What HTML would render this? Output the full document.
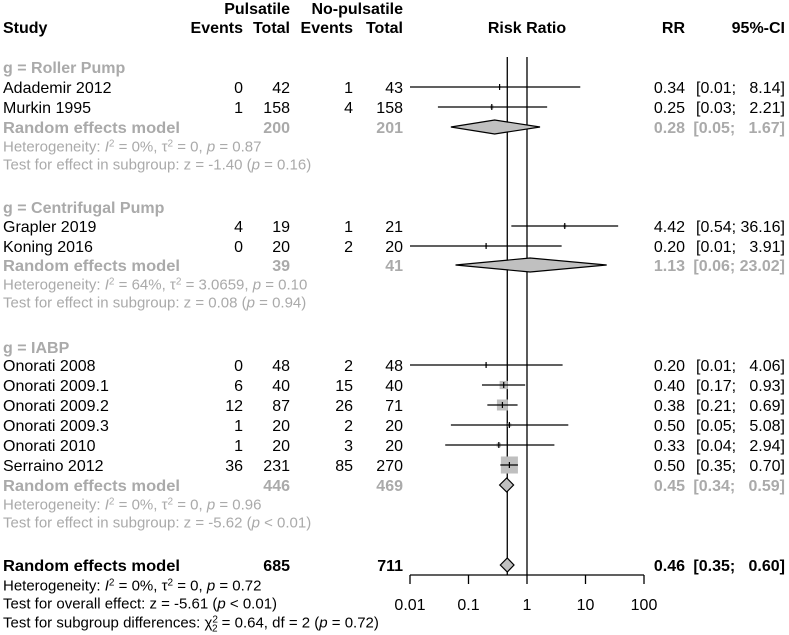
<!DOCTYPE html>
<html><head><meta charset="utf-8"><style>
html,body{margin:0;padding:0;background:#fff}
svg{display:block;font-family:"Liberation Sans",Arial,sans-serif}
</style></head><body>
<svg id="plot" width="789" height="635" viewBox="0 0 789 635" xmlns="http://www.w3.org/2000/svg"></svg>
<script>
const studies = ["Adademir 2012","Murkin 1995","Grapler 2019","Koning 2016","Onorati 2008","Onorati 2009.1","Onorati 2009.2","Onorati 2009.3","Onorati 2010","Serraino 2012"];
const evP = [0,1,4,0,0,6,12,1,1,36];
const totP = [42,158,19,20,48,40,87,20,20,231];
const evN = [1,4,1,2,2,15,26,2,3,85];
const totN = [43,158,21,20,48,40,71,20,20,270];
const rr = [0.34,0.25,4.42,0.20,0.20,0.40,0.38,0.50,0.33,0.50];
const lo = [0.01,0.03,0.54,0.01,0.01,0.17,0.21,0.05,0.04,0.35];
const hi = [8.14,2.21,36.16,3.91,4.06,0.93,0.69,5.08,2.94,0.70];
const weights = [1,2.5,2,1,1,14,25,3,4,60];
const rowY = [87,107,226,246,365,385,405,425,445,465];
const groups = ["g = Roller Pump","g = Centrifugal Pump","g = IABP"];
const grpRR = [0.28,1.13,0.45];
const grpLo = [0.05,0.06,0.34];
const grpHi = [1.67,23.02,0.59];
const grpTotP = [200,39,446];
const grpTotN = [201,41,469];
const grpY = [67,207,347];
const overall = {rr:0.46, lo:0.35, hi:0.60, totP:685, totN:711};
const ticks = [0.01,0.1,1,10,100];
const tickLabels = ["0.01","0.1","1","10","100"];

const svg = document.getElementById('plot');
const NS = "http://www.w3.org/2000/svg";
const X0 = 410, X1 = 644, AX = 575;
function xs(v){ return X0 + (Math.log10(v) + 2) / 4 * (X1 - X0); }
function mk(tag, attrs, parent){
  const e = document.createElementNS(NS, tag);
  for (const k in attrs) e.setAttribute(k, attrs[k]);
  (parent || svg).appendChild(e);
  return e;
}
function txt(s, x, y, opts){
  opts = opts || {};
  const size = opts.size || 16;
  const t = mk('text', {x:x, y:y + size*0.36, 'font-size': size, fill: opts.fill || '#000', 'text-anchor': opts.anchor || 'start'});
  if (opts.bold) t.setAttribute('font-weight','bold');
  if (opts.len) { t.setAttribute('textLength', opts.len); t.setAttribute('lengthAdjust','spacingAndGlyphs'); }
  if (opts.html) t.innerHTML = s; else t.textContent = s;
  
  
  return t;
}
const GREY = '#aaaaaa';
const f2 = v => v.toFixed(2);
function ci(l,h){ return '[' + f2(l) + '; ' + (h<10?'\u2007':'') + f2(h) + ']'; }

// headers
txt('Pulsatile', 290, 8, {bold:true, anchor:'end', name:'header-pulsatile'});
txt('No-pulsatile', 403, 8, {bold:true, anchor:'end', name:'header-no-pulsatile'});
txt('Study', 3, 27, {bold:true, name:'header-study'});
txt('Events', 243, 27, {bold:true, anchor:'end', name:'header-events-p'});
txt('Total', 290, 27, {bold:true, anchor:'end', name:'header-total-p'});
txt('Events', 353, 27, {bold:true, anchor:'end', name:'header-events-n'});
txt('Total', 403, 27, {bold:true, anchor:'end', name:'header-total-n'});
txt('Risk Ratio', 527, 27, {bold:true, anchor:'middle', name:'header-risk-ratio'});
txt('RR', 685, 27, {bold:true, anchor:'end', name:'header-rr'});
txt('95%-CI', 785, 27, {bold:true, anchor:'end', name:'header-ci'});

// reference lines
const l1 = mk('line', {x1:xs(1), x2:xs(1), y1:57, y2:AX, stroke:'#000', 'stroke-width':1.3});


const l2 = mk('line', {x1:xs(overall.rr), x2:xs(overall.rr), y1:57, y2:AX, stroke:'#000', 'stroke-width':1.3});



// studies
for (let i=0;i<studies.length;i++){
  const y = rowY[i];
  txt(studies[i], 3, y, {name:'study-name'});
  txt(String(evP[i]), 243, y, {anchor:'end', name:'events-pulsatile'});
  txt(String(totP[i]), 290, y, {anchor:'end', name:'total-pulsatile'});
  txt(String(evN[i]), 353, y, {anchor:'end', name:'events-no-pulsatile'});
  txt(String(totN[i]), 403, y, {anchor:'end', name:'total-no-pulsatile'});
  txt(f2(rr[i]), 685, y, {anchor:'end', name:'rr-value'});
  txt(ci(lo[i],hi[i]), 785, y, {anchor:'end', name:'ci-value'});
  const s = 2.2*Math.sqrt(weights[i]);
  const sq = mk('rect', {x:xs(rr[i])-s/2, y:y-s/2, width:s, height:s, fill:'#bfbfbf'});
  
  
  const cl = mk('line', {x1:xs(lo[i]), x2:xs(hi[i]), y1:y, y2:y, stroke:'#000', 'stroke-width':1.2});
  
  
  const tk = mk('line', {x1:xs(rr[i]), x2:xs(rr[i]), y1:y-3, y2:y+3, stroke:'#000', 'stroke-width':1.2});
  
  
}

// groups
const hetTxt = [
 ['Heterogeneity: <tspan font-style="italic">I</tspan><tspan dy="-5" font-size="10">2</tspan><tspan dy="5"> = 0%, τ</tspan><tspan dy="-5" font-size="10">2</tspan><tspan dy="5"> = 0, </tspan><tspan font-style="italic">p</tspan> = 0.87',
  'Test for effect in subgroup: z = -1.40 (<tspan font-style="italic">p</tspan> = 0.16)'],
 ['Heterogeneity: <tspan font-style="italic">I</tspan><tspan dy="-5" font-size="10">2</tspan><tspan dy="5"> = 64%, τ</tspan><tspan dy="-5" font-size="10">2</tspan><tspan dy="5"> = 3.0659, </tspan><tspan font-style="italic">p</tspan> = 0.10',
  'Test for effect in subgroup: z = 0.08 (<tspan font-style="italic">p</tspan> = 0.94)'],
 ['Heterogeneity: <tspan font-style="italic">I</tspan><tspan dy="-5" font-size="10">2</tspan><tspan dy="5"> = 0%, τ</tspan><tspan dy="-5" font-size="10">2</tspan><tspan dy="5"> = 0, </tspan><tspan font-style="italic">p</tspan> = 0.96',
  'Test for effect in subgroup: z = -5.62 (<tspan font-style="italic">p</tspan> &lt; 0.01)']
];
function diamond(r,l,h,y,fillc,name){
  const d = mk('polygon', {points: xs(l)+','+y+' '+xs(r)+','+(y-7)+' '+xs(h)+','+y+' '+xs(r)+','+(y+7), fill:fillc, stroke:'#000', 'stroke-width':1.2});
  
  
}
for (let g=0; g<3; g++){
  const y = grpY[g];
  txt(groups[g], 3, y, {bold:true, fill:GREY, name:'subgroup-title'});
  const ry = y + (g===2?138:(g===0?60:58));
  txt('Random effects model', 3, ry, {bold:true, len:177, fill:GREY, name:'subgroup-model-label'});
  txt(String(grpTotP[g]), 290, ry, {bold:true, fill:GREY, anchor:'end', name:'subgroup-total-p'});
  txt(String(grpTotN[g]), 403, ry, {bold:true, fill:GREY, anchor:'end', name:'subgroup-total-n'});
  txt(f2(grpRR[g]), 685, ry, {bold:true, fill:GREY, anchor:'end', name:'subgroup-rr'});
  txt(ci(grpLo[g],grpHi[g]), 785, ry, {bold:true, fill:GREY, anchor:'end', name:'subgroup-ci'});
  diamond(grpRR[g], grpLo[g], grpHi[g], ry, '#c0c0c0', 'subgroup-diamond');
  txt(hetTxt[g][0], 3, ry+19, {size:15, fill:GREY, html:true, name:'subgroup-heterogeneity'});
  txt(hetTxt[g][1], 3, ry+37, {size:15, fill:GREY, html:true, name:'subgroup-effect-test'});
}

// overall
txt('Random effects model', 3, 565, {bold:true, len:177, name:'overall-model-label'});
txt(String(overall.totP), 290, 565, {bold:true, anchor:'end', name:'overall-total-p'});
txt(String(overall.totN), 403, 565, {bold:true, anchor:'end', name:'overall-total-n'});
txt(f2(overall.rr), 685, 565, {bold:true, anchor:'end', name:'overall-rr'});
txt(ci(overall.lo, overall.hi), 785, 565, {bold:true, anchor:'end', name:'overall-ci'});
diamond(overall.rr, overall.lo, overall.hi, 565, '#c0c0c0', 'overall-diamond');
txt('Heterogeneity: <tspan font-style="italic">I</tspan><tspan dy="-5" font-size="10">2</tspan><tspan dy="5"> = 0%, τ</tspan><tspan dy="-5" font-size="10">2</tspan><tspan dy="5"> = 0, </tspan><tspan font-style="italic">p</tspan> = 0.72', 3, 585, {size:15, html:true, name:'overall-heterogeneity'});
txt('Test for overall effect: z = -5.61 (<tspan font-style="italic">p</tspan> &lt; 0.01)', 3, 603, {size:15, html:true, name:'overall-effect-test'});
txt('Test for subgroup differences: χ<tspan dy="-5" font-size="10">2</tspan><tspan dx="-6" dy="9" font-size="10">2</tspan><tspan dy="-4"> = 0.64, df = 2 (</tspan><tspan font-style="italic">p</tspan> = 0.72)', 3, 622, {size:15, html:true, name:'subgroup-difference-test'});

// axis
const ax = mk('line', {x1:X0, x2:X1, y1:AX, y2:AX, stroke:'#000', 'stroke-width':1.3});


for (let i=0;i<ticks.length;i++){
  const x = xs(ticks[i]);
  const t = mk('line', {x1:x, x2:x, y1:AX, y2:AX+9, stroke:'#000', 'stroke-width':1.3});
  
  
  txt(tickLabels[i], x, 604, {anchor:'middle', name:'x-tick-label'});
}
</script>
</body></html>
